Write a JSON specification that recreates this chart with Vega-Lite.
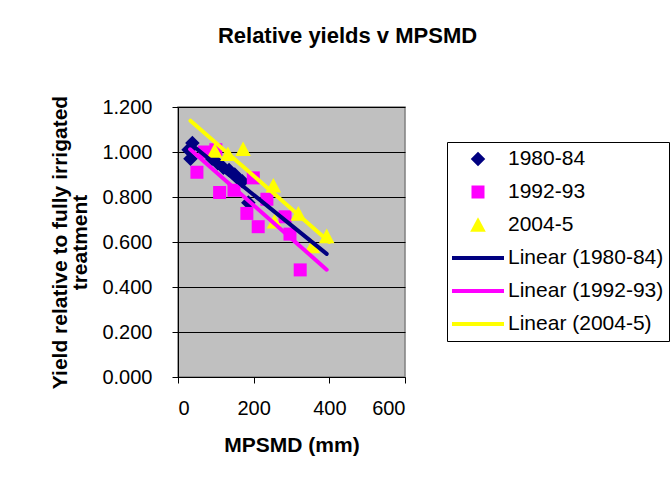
{
  "$schema": "https://vega.github.io/schema/vega-lite/v6.json",
  "width": 227,
  "height": 270,
  "autosize": {"type": "none"},
  "padding": {"left": 178, "top": 107, "right": 265, "bottom": 103},
  "background": "white",
  "title": {
    "text": "Relative yields v MPSMD",
    "font": "Liberation Sans",
    "fontSize": 22,
    "fontWeight": "bold",
    "color": "black",
    "anchor": "middle",
    "frame": "group",
    "dx": 56,
    "offset": 47
  },
  "config": {
    "view": {"fill": "#C0C0C0", "stroke": "#808080", "strokeWidth": 1.5},
    "axis": {
      "labelFont": "Liberation Sans",
      "labelFontSize": 20,
      "labelColor": "black",
      "titleFont": "Liberation Sans",
      "titleFontSize": 21,
      "titleFontWeight": "bold",
      "titleColor": "black",
      "domainColor": "black",
      "tickColor": "black",
      "tickSize": 6
    },
    "legend": {
      "orient": "none",
      "legendX": 269,
      "legendY": 35,
      "padding": 5,
      "strokeColor": "black",
      "fillColor": "white",
      "symbolSize": 2704,
      "symbolStrokeWidth": 0,
      "symbolOpacity": 1,
      "clipHeight": 24,
      "rowPadding": 9,
      "labelFont": "Liberation Sans",
      "labelFontSize": 21,
      "labelColor": "black",
      "labelOffset": 4,
      "labelLimit": 300
    }
  },
  "datasets": {
    "pts": [
      {"series": "1980-84", "mpsmd": 28, "yield": 1.01},
      {"series": "1980-84", "mpsmd": 38, "yield": 1.04},
      {"series": "1980-84", "mpsmd": 33, "yield": 0.97},
      {"series": "1980-84", "mpsmd": 90, "yield": 0.97},
      {"series": "1980-84", "mpsmd": 105, "yield": 0.95},
      {"series": "1980-84", "mpsmd": 120, "yield": 0.93},
      {"series": "1980-84", "mpsmd": 135, "yield": 0.92},
      {"series": "1980-84", "mpsmd": 150, "yield": 0.9},
      {"series": "1980-84", "mpsmd": 160, "yield": 0.88},
      {"series": "1980-84", "mpsmd": 170, "yield": 0.87},
      {"series": "1980-84", "mpsmd": 186, "yield": 0.775},
      {"series": "1992-93", "mpsmd": 50, "yield": 0.91},
      {"series": "1992-93", "mpsmd": 70, "yield": 1.0},
      {"series": "1992-93", "mpsmd": 100, "yield": 1.01},
      {"series": "1992-93", "mpsmd": 110, "yield": 0.82},
      {"series": "1992-93", "mpsmd": 148, "yield": 0.83},
      {"series": "1992-93", "mpsmd": 182, "yield": 0.727},
      {"series": "1992-93", "mpsmd": 199, "yield": 0.885},
      {"series": "1992-93", "mpsmd": 212, "yield": 0.668},
      {"series": "1992-93", "mpsmd": 235, "yield": 0.79},
      {"series": "1992-93", "mpsmd": 283, "yield": 0.712},
      {"series": "1992-93", "mpsmd": 296, "yield": 0.635},
      {"series": "1992-93", "mpsmd": 323, "yield": 0.476},
      {"series": "2004-5", "mpsmd": 97, "yield": 1.005},
      {"series": "2004-5", "mpsmd": 132, "yield": 0.99},
      {"series": "2004-5", "mpsmd": 172, "yield": 1.012},
      {"series": "2004-5", "mpsmd": 252, "yield": 0.85},
      {"series": "2004-5", "mpsmd": 255, "yield": 0.69},
      {"series": "2004-5", "mpsmd": 318, "yield": 0.725},
      {"series": "2004-5", "mpsmd": 355, "yield": 0.58},
      {"series": "2004-5", "mpsmd": 393, "yield": 0.625}
    ],
    "trend": [
      {"series": "Linear (1980-84)", "mpsmd": 32, "yield": 1.038},
      {"series": "Linear (1980-84)", "mpsmd": 393, "yield": 0.547},
      {"series": "Linear (1992-93)", "mpsmd": 32, "yield": 1.012},
      {"series": "Linear (1992-93)", "mpsmd": 393, "yield": 0.477},
      {"series": "Linear (2004-5)", "mpsmd": 33, "yield": 1.139},
      {"series": "Linear (2004-5)", "mpsmd": 400, "yield": 0.6}
    ]
  },
  "encoding": {
    "x": {
      "field": "mpsmd",
      "type": "quantitative",
      "scale": {"domain": [0, 600], "nice": false},
      "axis": {
        "title": "MPSMD (mm)",
        "values": [0, 200, 400, 600],
        "grid": false,
        "labelPadding": 15,
        "titlePadding": 16
      }
    },
    "y": {
      "field": "yield",
      "type": "quantitative",
      "scale": {"domain": [0, 1.2], "nice": false},
      "axis": {
        "title": ["Yield relative to fully irrigated", "treatment"],
        "values": [0, 0.2, 0.4, 0.6, 0.8, 1.0, 1.2],
        "format": ".3f",
        "grid": true,
        "gridColor": "black",
        "gridOpacity": 1,
        "gridWidth": 1,
        "labelPadding": 20,
        "titleX": -117.3,
        "titleY": 135,
        "titleAngle": -90,
        "titleAlign": "center",
        "titleBaseline": "middle",
        "titleLineHeight": 19.5
      }
    }
  },
  "layer": [
    {
      "data": {"name": "pts"},
      "mark": {"type": "point", "filled": true, "opacity": 1, "size": 2704},
      "encoding": {
        "color": {
          "field": "series",
          "type": "nominal",
          "scale": {
            "domain": ["1980-84", "1992-93", "2004-5", "Linear (1980-84)", "Linear (1992-93)", "Linear (2004-5)"],
            "range": ["#000080", "#FF00FF", "#FFFF00", "#000080", "#FF00FF", "#FFFF00"]
          },
          "legend": {"title": null}
        },
        "shape": {
          "field": "series",
          "type": "nominal",
          "scale": {
            "domain": ["1980-84", "1992-93", "2004-5", "Linear (1980-84)", "Linear (1992-93)", "Linear (2004-5)"],
            "range": [
              "M0,-0.28L0.28,0L0,0.28L-0.28,0Z",
              "M-0.25,-0.25L0.25,-0.25L0.25,0.25L-0.25,0.25Z",
              "M0,-0.3L0.3,0.26L-0.3,0.26Z",
              "M-1,-0.077L1,-0.077L1,0.077L-1,0.077Z",
              "M-1,-0.077L1,-0.077L1,0.077L-1,0.077Z",
              "M-1,-0.077L1,-0.077L1,0.077L-1,0.077Z"
            ]
          },
          "legend": {"title": null}
        }
      }
    },
    {
      "data": {"name": "trend"},
      "mark": {"type": "line", "strokeWidth": 4, "strokeCap": "round"},
      "encoding": {
        "color": {
          "field": "series",
          "type": "nominal",
          "legend": null
        },
        "detail": {"field": "series", "type": "nominal"}
      }
    }
  ]
}
